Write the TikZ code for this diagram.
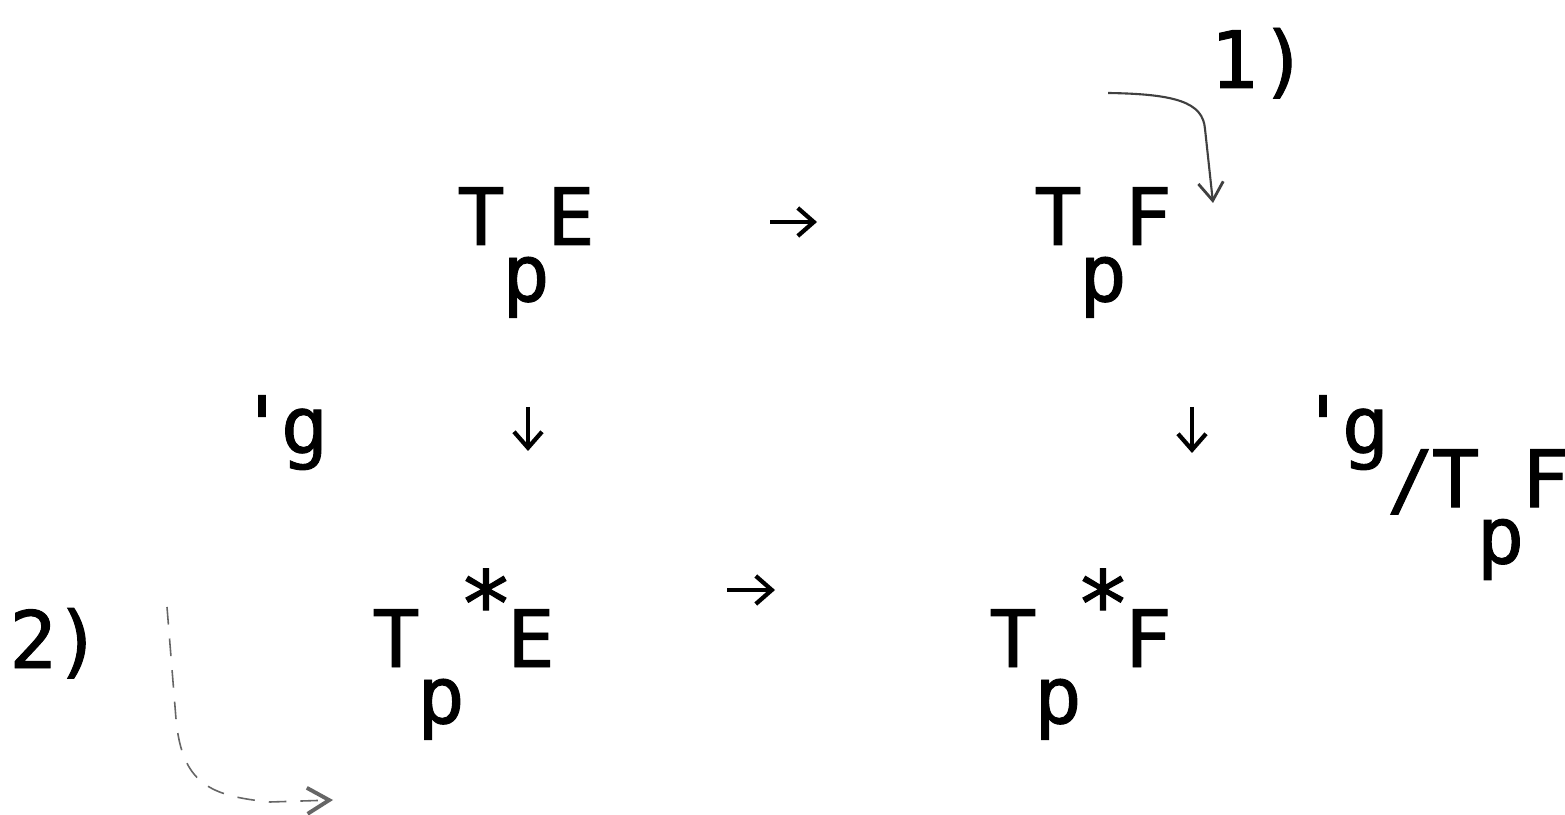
\documentclass[tikz,border=0pt]{standalone}
\usepackage{fontspec}
\newfontfamily\tw[FakeBold=1.2]{DejaVu Sans Mono}
\usetikzlibrary{arrows.meta}
\newcommand\ch[1]{\makebox[12.8pt][c]{#1}}
\newcommand\chq[1]{\makebox[11.4pt][c]{#1}}
\newcommand\chw[1]{\makebox[14.2pt][c]{#1}}
\newcommand\mylow[1]{\raisebox{-16pt}{#1}}
\newcommand\myhigh[1]{\raisebox{8.8pt}{#1}}
\newcommand\mygroup[1]{\raisebox{-15.4pt}{#1}}
\newcommand\myast{\ch{\scalebox{1.15}{*}}}
\tikzset{
  lbl/.style={anchor=base west, inner sep=0pt, outer sep=0pt, font=\tw\fontsize{22.5}{27}\selectfont},
  maparrow/.style={line width=1.2pt, -{Straight Barb[length=1.6mm,width=2.8mm,line width=1.2pt]}},
  notearrow/.style={line width=0.6pt, black!75, -{Straight Barb[length=1.8mm,width=2.5mm,line width=0.8pt]}},
  fadearrow/.style={line width=0.45pt, black!60, dash pattern=on 5pt off 4pt, -{Straight Barb[length=2.2mm,width=2.6mm,line width=1.1pt,sep=0pt]}}
}
\begin{document}
\begin{tikzpicture}
\useasboundingbox[fill=white] (0,0) rectangle (15.65,8.14);
% objects
\node[lbl] (TE)  at (4.585,5.69) {\ch{T}\mylow{\ch{p}}\ch{E}};
\node[lbl] (TF)  at (10.355,5.69) {\ch{T}\mylow{\ch{p}}\ch{F}};
\node[lbl] (TsE) at (3.735,1.47) {\ch{T}\mylow{\ch{p}}\myhigh{\myast}\ch{E}};
\node[lbl] (TsF) at (9.905,1.47) {\ch{T}\mylow{\ch{p}}\myhigh{\myast}\ch{F}};
% labels
\node[lbl] (gl) at (2.42,3.61) {\chq{'}\ch{g}};
\node[lbl] (gr) at (13.03,3.61) {\chq{'}\ch{g}\mygroup{\ch{/}\ch{T}\mylow{\ch{p}}\ch{F}}};
\node[lbl] (n1) at (12.09,7.26) {\chw{1}\chw{)}};
\node[lbl] (n2) at (0.105,1.46) {\ch{2}\ch{)}};
% map arrows
\coordinate (h1s) at (7.70,5.92); \coordinate (h1e) at (8.17,5.92);
\coordinate (h2s) at (7.27,2.24); \coordinate (h2e) at (7.75,2.24);
\coordinate (v1s) at (5.28,4.07); \coordinate (v1e) at (5.28,3.63);
\coordinate (v2s) at (11.92,4.07); \coordinate (v2e) at (11.92,3.61);
\draw[maparrow] (h1s) -- (h1e);
\draw[maparrow] (h2s) -- (h2e);
\draw[maparrow] (v1s) -- (v1e);
\draw[maparrow] (v2s) -- (v2e);
% annotation arrows
\coordinate (c1s) at (11.08,7.21); \coordinate (c1e) at (12.13,6.11);
\draw[notearrow] (c1s) .. controls (11.75,7.20) and (12.03,7.12) .. (12.05,6.85) -- (c1e);
\coordinate (c2s) at (1.67,2.07); \coordinate (c2e) at (3.33,0.14);
\draw[fadearrow] (c2s) -- (1.76,0.95) .. controls (1.82,0.30) and (2.10,0.18) .. (2.70,0.12) -- (c2e);
\end{tikzpicture}
\end{document}
